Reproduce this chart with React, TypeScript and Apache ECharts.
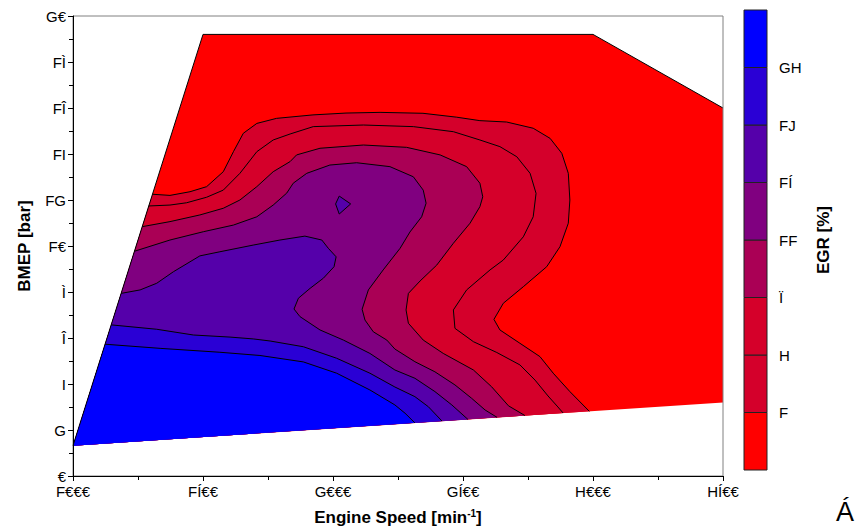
import React, { useEffect, useRef } from "react";
import * as echarts from "echarts";

// Tick labels exactly as shown in the reference
const xTickLabels = ["F€€€", "FÍ€€", "G€€€", "GÍ€€", "H€€€", "HÍ€€"];
const yTickLabels = ["€", "G", "I", "Î", "Ì", "F€", "FG", "FI", "FÎ", "FÌ", "G€"];
const levelLabels = ["F", "H", "Ï", "FF", "FÍ", "FJ", "GH"];
const bandColors = ["#FF0000", "#D4002B", "#D5002A", "#AA0055", "#800080", "#5500AA", "#2A00D5", "#0000FF"];

// Operating domain [rpm, bmep]
const domain = [[1000, 1.32], [1500, 19.2], [3000, 19.2], [3500, 16.0], [3500, 3.2]];

// Contour lines (level 1 .. level 7), from left boundary to bottom boundary
const contour1 = [[1306, 12.25], [1373, 12.2], [1450, 12.36], [1514, 12.58], [1578, 13.23], [1617, 14.1], [1655, 14.9], [1707, 15.33], [1783, 15.55], [1923, 15.7], [2050, 15.78], [2181, 15.81], [2346, 15.77], [2476, 15.6], [2565, 15.45], [2668, 15.39], [2770, 15.12], [2835, 14.68], [2880, 14.03], [2905, 13.16], [2911, 12.0], [2905, 10.99], [2873, 9.97], [2822, 9.1], [2732, 8.23], [2655, 7.51], [2619, 6.81], [2642, 6.35], [2719, 5.77], [2796, 5.19], [2847, 4.47], [2911, 3.67], [2986, 2.81]];
const contour2 = [[1291, 11.74], [1373, 11.78], [1437, 11.88], [1514, 12.12], [1578, 12.43], [1642, 13.16], [1707, 14.1], [1770, 14.61], [1835, 14.87], [1924, 15.19], [2117, 15.26], [2309, 15.19], [2463, 14.97], [2565, 14.61], [2642, 14.32], [2707, 13.88], [2758, 13.16], [2781, 12.29], [2770, 11.27], [2732, 10.4], [2655, 9.39], [2604, 8.96], [2514, 8.09], [2463, 7.22], [2469, 6.42], [2540, 5.84], [2630, 5.37], [2719, 4.83], [2777, 4.17], [2827, 3.48], [2862, 3.04], [2885, 2.74]];
const contour3 = [[1266, 10.84], [1373, 11.06], [1488, 11.35], [1578, 11.64], [1642, 12.0], [1707, 12.58], [1770, 13.23], [1835, 13.67], [1860, 13.96], [1950, 14.25], [2117, 14.39], [2283, 14.29], [2412, 13.96], [2514, 13.45], [2565, 12.73], [2576, 12.14], [2565, 11.71], [2527, 10.99], [2463, 10.12], [2399, 9.17], [2335, 8.48], [2290, 7.94], [2281, 7.22], [2290, 6.64], [2347, 5.91], [2424, 5.33], [2540, 4.61], [2610, 3.88], [2675, 3.05], [2738, 2.63]];
const contour4 = [[1236, 9.77], [1373, 10.26], [1501, 10.62], [1617, 10.91], [1707, 11.27], [1770, 11.78], [1822, 12.3], [1847, 12.73], [1899, 13.16], [1988, 13.52], [2091, 13.62], [2219, 13.45], [2309, 13.01], [2347, 12.43], [2358, 11.86], [2341, 11.27], [2296, 10.61], [2258, 9.9], [2193, 8.96], [2136, 8.09], [2112, 7.25], [2123, 6.78], [2155, 6.27], [2207, 5.91], [2238, 5.52], [2315, 4.97], [2392, 4.53], [2469, 3.96], [2533, 3.38], [2585, 2.87], [2631, 2.55]];
const contour5 = [[1185, 7.94], [1258, 8.09], [1322, 8.38], [1386, 8.88], [1488, 9.57], [1565, 9.75], [1693, 10.04], [1796, 10.26], [1892, 10.43], [1957, 10.26], [1982, 9.9], [2012, 9.53], [2004, 9.1], [1963, 8.6], [1912, 8.16], [1867, 7.73], [1850, 7.26], [1873, 6.93], [1950, 6.35], [2040, 5.91], [2142, 5.33], [2238, 4.61], [2315, 4.25], [2392, 3.67], [2457, 3.09], [2519, 2.46]];
const contour6 = [[1147, 6.57], [1322, 6.38], [1463, 6.13], [1604, 6.04], [1693, 5.96], [1758, 5.87], [1886, 5.62], [2014, 5.12], [2142, 4.47], [2238, 3.87], [2315, 3.45], [2367, 3.01], [2419, 2.39]];
const contour7 = [[1123, 5.73], [1335, 5.55], [1565, 5.38], [1719, 5.24], [1886, 4.96], [2014, 4.47], [2142, 3.74], [2238, 3.09], [2277, 2.73], [2315, 2.31]];
// Small island above level 5
const island5 = [[2024, 12.17], [2068, 11.83], [2024, 11.39], [2010, 11.83]];

const contours = [contour1, contour2, contour3, contour4, contour5, contour6, contour7];

export default function App() {
  const ref = useRef<HTMLDivElement>(null);

  useEffect(() => {
    if (!ref.current) return;
    const chart = echarts.init(ref.current, null, { renderer: "svg" });
    const font = "'Liberation Sans', Arial, Helvetica, sans-serif";
    const corner = domain[0];

    const fills: { pts: number[][]; color: string }[] = [
      { pts: domain, color: bandColors[0] },
      ...contours.map((c, i) => ({ pts: [...c, corner], color: bandColors[i + 1] })),
      { pts: island5, color: bandColors[5] },
    ];
    const lines: number[][][] = [...contours, [...island5, island5[0]]];
    const outline = domain.slice(0, 4);

    const option: any = {
      animation: false,
      backgroundColor: "#ffffff",
      textStyle: { fontFamily: font },
      grid: [
        { left: 73, right: 140, top: 16, bottom: 55, show: true, borderColor: "#808080", borderWidth: 1, backgroundColor: "transparent", z: 10 },
        { left: 744, top: 10, width: 23, height: 460 },
      ],
      xAxis: [
        {
          type: "value", gridIndex: 0, min: 1000, max: 3500, interval: 500, z: 12,
          axisLine: { show: true, onZero: false, lineStyle: { color: "#000", width: 1 } },
          axisTick: { show: true, inside: false, length: 5, lineStyle: { color: "#000" } },
          minorTick: { show: true, splitNumber: 2, length: 4, lineStyle: { color: "#000" } },
          splitLine: { show: false },
          axisLabel: {
            formatter: (v: number) => xTickLabels[Math.round((v - 1000) / 500)] ?? "",
            fontSize: 15, color: "#000", fontFamily: font, margin: 8,
          },
          name: "Engine Speed [min{sup|-1}]",
          nameLocation: "middle", nameGap: 32,
          nameTextStyle: {
            fontSize: 17, fontWeight: "bold", color: "#000", fontFamily: font,
            rich: { sup: { fontSize: 10, fontWeight: "bold", color: "#000", fontFamily: font, verticalAlign: "top", padding: [0, 0, 8, 0] } },
          },
        },
        { type: "value", gridIndex: 1, min: 0, max: 1, show: false },
      ],
      yAxis: [
        {
          type: "value", gridIndex: 0, min: 0, max: 20, interval: 2, z: 12,
          axisLine: { show: true, onZero: false, lineStyle: { color: "#000", width: 1 } },
          axisTick: { show: true, inside: false, length: 5, lineStyle: { color: "#000" } },
          minorTick: { show: true, splitNumber: 2, length: 4, lineStyle: { color: "#000" } },
          splitLine: { show: false },
          axisLabel: {
            formatter: (v: number) => yTickLabels[Math.round(v / 2)] ?? "",
            fontSize: 15, color: "#000", fontFamily: font, margin: 7,
          },
          name: "BMEP [bar]", nameLocation: "middle", nameGap: 40, nameRotate: 90,
          nameTextStyle: { fontSize: 17, fontWeight: "bold", color: "#000", fontFamily: font },
        },
        {
          type: "value", gridIndex: 1, min: 0, max: 8, interval: 1, position: "right",
          axisLine: { show: false }, axisTick: { show: false }, splitLine: { show: false },
          axisLabel: {
            formatter: (v: number) => levelLabels[Math.round(v) - 1] ?? "",
            fontSize: 15, color: "#000", fontFamily: font, margin: 12,
          },
          name: "EGR [%]", nameLocation: "middle", nameGap: 48, nameRotate: 90,
          nameTextStyle: { fontSize: 17, fontWeight: "bold", color: "#000", fontFamily: font },
        },
      ],
      graphic: [
        { type: "text", left: 836, top: 498, style: { text: "Á", fontSize: 27, fill: "#000", fontFamily: font } },
      ],
      series: [
        {
          type: "custom", name: "fills", xAxisIndex: 0, yAxisIndex: 0, z: 2, silent: true,
          data: fills.map((_, i) => [1000, 0, i]),
          renderItem: (_p: any, api: any) => {
            const f = fills[api.value(2) as number];
            return { type: "polygon", shape: { points: f.pts.map((p) => api.coord(p)) }, style: { fill: f.color } };
          },
        },
        {
          type: "custom", name: "contours", xAxisIndex: 0, yAxisIndex: 0, z: 3, silent: true,
          data: lines.map((_, i) => [1000, 0, i]),
          renderItem: (_p: any, api: any) => {
            const l = lines[api.value(2) as number];
            return { type: "polyline", shape: { points: l.map((p) => api.coord(p)) }, style: { stroke: "#000", lineWidth: 1, fill: null } };
          },
        },
        {
          type: "custom", name: "outline", xAxisIndex: 0, yAxisIndex: 0, z: 4, silent: true,
          data: [[1000, 0, 0]],
          renderItem: (_p: any, api: any) => ({
            type: "polyline", shape: { points: outline.map((p) => api.coord(p)) }, style: { stroke: "#000", lineWidth: 1, fill: null },
          }),
        },
        {
          type: "custom", name: "colorbar", xAxisIndex: 1, yAxisIndex: 1, z: 2, silent: true,
          data: bandColors.map((_, i) => [0, i, i]),
          renderItem: (_p: any, api: any) => {
            const i = api.value(2) as number;
            const p0 = api.coord([0, i]);
            const p1 = api.coord([1, i + 1]);
            return {
              type: "rect",
              shape: { x: p0[0], y: p1[1], width: p1[0] - p0[0], height: p0[1] - p1[1] },
              style: { fill: bandColors[i], stroke: "#222", lineWidth: 1 },
            };
          },
        },
      ],
    };
    chart.setOption(option);
    return () => chart.dispose();
  }, []);

  return <div ref={ref} style={{ position: "fixed", left: 0, top: 0, width: 863, height: 531 }} />;
}
